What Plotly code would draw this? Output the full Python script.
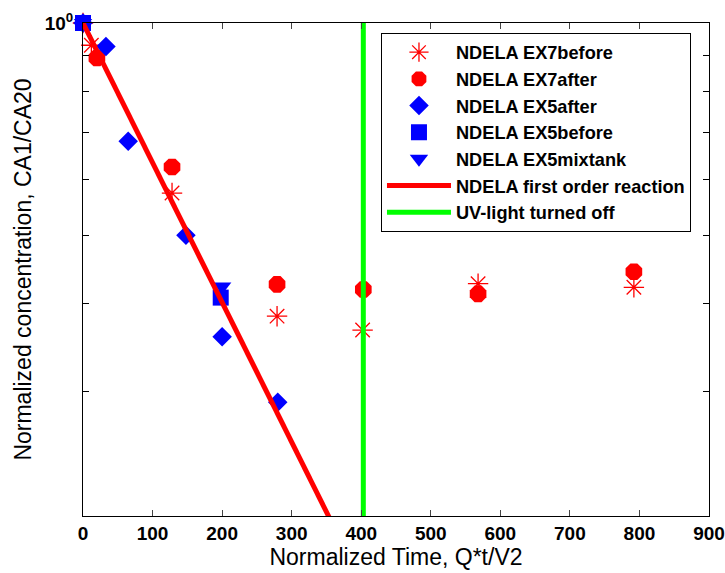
import plotly.graph_objects as go

# ---- data ----
ex7_before_t = [0, 12, 128, 279, 402, 568, 792]
ex7_before_c = [1.0, 0.93, 0.574, 0.384, 0.367, 0.427, 0.422]

ex7_after_t = [20, 128, 279, 403, 568, 792]
ex7_after_c = [0.892, 0.625, 0.426, 0.419, 0.413, 0.444]

ex5_after_t = [0, 33, 65, 148, 200, 280]
ex5_after_c = [1.0, 0.926, 0.680, 0.50, 0.359, 0.290]

ex5_before_t = [0, 198]
ex5_before_c = [1.0, 0.408]

ex5_mix_t = [0, 200]
ex5_mix_c = [1.0, 0.423]

model_t = [0, 370]
model_c = [1.0, 0.185]

uv_off_t = [403, 403]
uv_off_c = [0.2, 1.0]

x_ticks = [0, 100, 200, 300, 400, 500, 600, 700, 800, 900]
y_major = [1.0]
y_major_text = ["10<sup>0</sup>"]
y_minor = [0.3, 0.4, 0.5, 0.6, 0.7, 0.8, 0.9]

RED = "#FF0000"
BLUE = "#0000FF"
GREEN = "#00FF00"

fig = go.Figure()
fig.add_trace(go.Scatter(x=ex7_before_t, y=ex7_before_c, mode="markers", name="NDELA EX7before",
                         legendgroup="a",
                         marker=dict(symbol="asterisk-open", size=17, color=RED, line=dict(color=RED, width=1.3)),
                         cliponaxis=False))
fig.add_trace(go.Scatter(x=ex7_after_t, y=ex7_after_c, mode="markers", name="NDELA EX7after",
                         legendgroup="b",
                         marker=dict(symbol="octagon", size=18, color=RED, line=dict(width=0)),
                         cliponaxis=False))
fig.add_trace(go.Scatter(x=ex5_after_t, y=ex5_after_c, mode="markers", name="NDELA EX5after",
                         legendgroup="c",
                         marker=dict(symbol="diamond", size=15, color=BLUE, line=dict(width=0)),
                         cliponaxis=False))
fig.add_trace(go.Scatter(x=ex5_before_t, y=ex5_before_c, mode="markers", name="NDELA EX5before",
                         legendgroup="d",
                         marker=dict(symbol="square", size=16, color=BLUE, line=dict(width=0)),
                         cliponaxis=False))
fig.add_trace(go.Scatter(x=ex5_mix_t, y=ex5_mix_c, mode="markers", name="NDELA EX5mixtank",
                         legendgroup="e",
                         marker=dict(symbol="triangle-down", size=16, color=BLUE, line=dict(width=0)),
                         cliponaxis=False))
fig.add_trace(go.Scatter(x=model_t, y=model_c, mode="lines", name="NDELA first order reaction",
                         legendgroup="f",
                         line=dict(color=RED, width=5)))
fig.add_trace(go.Scatter(x=uv_off_t, y=uv_off_c, mode="lines", name="UV-light turned off",
                         legendgroup="g",
                         line=dict(color=GREEN, width=5)))

fig.update_layout(
    width=725, height=573,
    margin=dict(l=83, r=16, t=23, b=57, autoexpand=False),
    paper_bgcolor="white", plot_bgcolor="white",
    font=dict(family="Liberation Sans, Arial, sans-serif", color="black"),
    showlegend=True,
    legend=dict(x=0.476, y=0.98, xanchor="left", yanchor="top",
                bgcolor="white", bordercolor="black", borderwidth=1,
                font=dict(size=18.2, weight="bold"),
                traceorder="grouped", tracegroupgap=0, itemwidth=64),
)
fig.update_xaxes(range=[0, 900], tickvals=x_ticks, ticks="inside", ticklen=6,
                 showline=True, linecolor="black", linewidth=1, mirror="ticks",
                 showgrid=False, zeroline=False,
                 tickfont=dict(size=19, weight="bold"),
                 title=dict(text="Normalized Time, Q*t/V2", font=dict(size=23), standoff=2))
fig.update_yaxes(type="log", range=[-0.69897, 0], tickvals=y_major, ticktext=y_major_text,
                 ticks="inside", ticklen=6, ticklabelstandoff=5,
                 minor=dict(tickvals=y_minor, ticks="inside", ticklen=6, tickcolor="black"),
                 showline=True, linecolor="black", linewidth=1, mirror="ticks",
                 showgrid=False, zeroline=False,
                 tickfont=dict(size=19, weight="bold"),
                 title=dict(text="Normalized concentration, CA1/CA20", font=dict(size=23), standoff=6))

fig.write_html("out.html")
